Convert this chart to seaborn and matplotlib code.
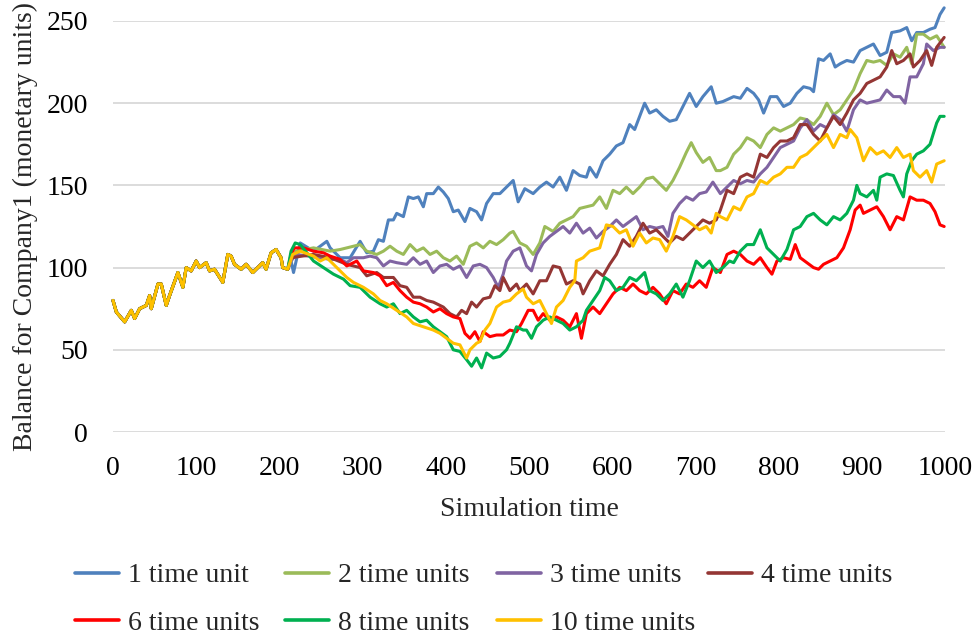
import numpy as np
import pandas as pd
import matplotlib
matplotlib.use("Agg")
import matplotlib.pyplot as plt
import seaborn as sns

# ---------------- data ----------------
series_names = ["1 time unit", "2 time units", "3 time units", "4 time units",
                "6 time units", "8 time units", "10 time units"]
series_colors = ["#4F81BD", "#9BBB59", "#8064A2", "#943634",
                 "#FF0000", "#00B050", "#FFC000"]

shared_t = [0, 4, 14, 22, 26, 32, 40, 44, 46, 54, 58, 64, 68, 78, 84, 88, 94, 100,
            104, 112, 116, 122, 132, 138, 142, 146, 154, 160, 168, 174, 180, 184,
            190, 196, 202, 204, 210]
shared_v = [80, 73, 67, 74, 69, 75, 77, 83, 75, 90, 90, 77, 83, 97, 88, 100, 98, 104,
            100, 103, 98, 99, 91, 108, 107, 102, 99, 102, 97, 100, 103, 99,
            109, 111, 106, 100, 99]

t1 = [214, 217, 225, 241, 257, 261, 273, 285, 297, 305, 313, 319, 325, 331, 337, 341,
      349, 355, 361, 367, 373, 377, 385, 391, 397, 403, 409, 415, 423, 429, 437, 443,
      449, 457, 465, 473, 481, 487, 495, 505, 513, 521, 529, 537, 545, 553, 561, 569,
      573, 581, 589, 597, 605, 613, 621, 627, 633, 639, 645, 653, 661, 669, 677, 685,
      693, 701, 709, 719, 725, 733, 746, 754, 762, 770, 776, 782, 790, 798, 806, 814,
      822, 830, 838, 842, 848, 854, 862, 868, 874, 882, 890, 898, 906, 914, 922, 930,
      936, 946, 954, 960, 966, 974, 982, 988, 994, 999]
v1 = [104, 97, 115, 110, 116, 112, 106, 106, 116, 109, 110, 117, 116, 129, 129, 133,
      131, 143, 142, 143, 137, 145, 145, 149, 146, 142, 134, 135, 128, 136, 134, 129,
      139, 145, 145, 149, 153, 140, 148, 145, 149, 152, 149, 155, 147, 159, 156, 155,
      161, 155, 165, 169, 174, 176, 187, 184, 192, 200, 194, 196, 192, 189, 190, 198,
      206, 198, 204, 210, 200, 201, 204, 203, 209, 206, 202, 194, 204, 204, 198, 200,
      206, 210, 209, 207, 227, 226, 230, 222, 224, 226, 225, 232, 234, 236, 229, 231,
      243, 244, 246, 238, 243, 243, 245, 246, 254, 258]

t2 = [214, 220, 241, 261, 273, 281, 289, 297, 305, 317, 325, 333, 341, 349, 357, 365,
      373, 381, 389, 397, 405, 413, 421, 429, 437, 445, 453, 461, 469, 477, 481, 489,
      497, 505, 513, 519, 529, 537, 545, 553, 561, 569, 577, 585, 593, 601, 609, 617,
      625, 633, 641, 649, 657, 665, 673, 681, 689, 695, 701, 709, 717, 725, 730, 738,
      746, 754, 762, 770, 778, 786, 794, 802, 810, 818, 826, 834, 842, 850, 858, 866,
      874, 882, 890, 898, 906, 914, 922, 930, 938, 946, 954, 960, 966, 974, 982, 990,
      999]
v2 = [104, 110, 112, 110, 111, 112, 113, 114, 110, 108, 110, 113, 110, 108, 114, 110,
      112, 108, 110, 106, 104, 107, 102, 113, 115, 112, 116, 114, 117, 121, 122, 115,
      113, 108, 115, 125, 122, 127, 129, 131, 136, 137, 138, 143, 136, 147, 145, 149,
      145, 149, 154, 155, 151, 147, 153, 161, 170, 176, 170, 164, 167, 159, 159, 161,
      169, 173, 179, 177, 173, 181, 185, 183, 185, 187, 191, 190, 187, 192, 200, 193,
      196, 202, 208, 218, 226, 225, 226, 223, 230, 228, 234, 224, 242, 242, 239, 241,
      234]

t3 = [214, 220, 249, 261, 273, 281, 289, 301, 309, 317, 325, 333, 341, 353, 361, 369,
      377, 385, 393, 401, 409, 417, 425, 433, 441, 449, 457, 463, 469, 473, 481, 489,
      497, 503, 509, 517, 525, 533, 541, 549, 557, 565, 573, 581, 589, 597, 605, 613,
      621, 629, 637, 645, 653, 661, 667, 673, 681, 689, 697, 705, 713, 721, 730, 738,
      746, 754, 762, 770, 778, 786, 794, 802, 810, 818, 826, 834, 842, 850, 858, 866,
      874, 882, 890, 898, 906, 914, 922, 930, 938, 946, 952, 958, 966, 974, 978, 986,
      994, 999]
v3 = [104, 108, 106, 105, 105, 103, 106, 106, 107, 106, 101, 104, 103, 102, 106, 102,
      104, 97, 101, 102, 99, 101, 94, 101, 102, 100, 94, 88, 96, 104, 110, 112,
      101, 98, 108, 115, 119, 122, 125, 121, 127, 121, 124, 118, 122, 125, 129, 125,
      128, 131, 123, 125, 124, 125, 119, 133, 139, 143, 141, 145, 146, 152, 145, 149,
      153, 151, 153, 152, 157, 161, 167, 173, 175, 177, 185, 190, 183, 187, 185, 193,
      190, 183, 196, 202, 200, 201, 202, 208, 204, 204, 200, 216, 216, 224, 236, 232,
      234, 234]

t4 = [214, 241, 261, 281, 297, 305, 317, 325, 337, 345, 353, 361, 369, 377, 385, 397,
      405, 413, 419, 425, 431, 437, 445, 453, 459, 465, 469, 477, 485, 489, 497, 505,
      513, 521, 529, 537, 545, 553, 561, 565, 573, 581, 589, 597, 605, 613, 621, 629,
      637, 645, 653, 661, 669, 677, 685, 693, 701, 709, 717, 725, 730, 738, 746, 754,
      762, 770, 778, 786, 794, 802, 810, 818, 826, 834, 842, 850, 858, 866, 874, 882,
      890, 898, 906, 914, 922, 930, 936, 942, 950, 958, 962, 970, 978, 984, 990, 999]
v4 = [106, 108, 106, 102, 100, 95, 97, 94, 94, 89, 88, 82, 82, 80, 79, 76,
      72, 70, 74, 72, 79, 76, 81, 82, 89, 86, 94, 86, 90, 86, 90, 84,
      92, 92, 101, 100, 90, 92, 90, 84, 92, 98, 95, 102, 108, 117, 113, 119,
      127, 121, 123, 119, 115, 119, 117, 121, 125, 129, 127, 129, 135, 147, 145, 155,
      157, 155, 169, 167, 173, 177, 177, 179, 187, 187, 181, 177, 185, 192, 187, 194,
      202, 206, 212, 214, 216, 222, 232, 224, 226, 230, 222, 226, 232, 223, 234, 240]

t6 = [214, 218, 229, 241, 253, 261, 273, 281, 293, 301, 313, 321, 329, 337, 345, 353,
      361, 369, 377, 385, 393, 401, 409, 417, 423, 429, 435, 441, 445, 453, 461, 469,
      477, 485, 491, 499, 505, 511, 517, 525, 533, 541, 549, 557, 563, 569, 577, 585,
      593, 601, 609, 617, 625, 633, 641, 649, 657, 665, 673, 681, 689, 697, 705, 713,
      721, 730, 738, 746, 754, 762, 770, 778, 786, 792, 798, 806, 814, 820, 826, 834,
      842, 848, 854, 862, 870, 878, 886, 892, 898, 902, 910, 918, 926, 934, 942, 950,
      958, 966, 974, 982, 988, 994, 999]
v6 = [108, 112, 112, 110, 109, 107, 105, 101, 104, 98, 97, 95, 89, 91, 86, 82,
      79, 78, 76, 73, 75, 72, 70, 69, 60, 57, 61, 55, 61, 58, 59, 59,
      62, 61, 66, 74, 74, 68, 72, 68, 70, 68, 64, 72, 57, 72, 76, 72,
      78, 84, 88, 86, 90, 86, 84, 88, 84, 78, 86, 84, 90, 88, 92, 88,
      100, 97, 108, 110, 108, 104, 102, 106, 100, 96, 104, 106, 105, 114, 106, 103,
      100, 99, 102, 104, 106, 112, 123, 135, 138, 133, 135, 137, 131, 123, 131, 129,
      143, 141, 141, 139, 134, 126, 125]

t8 = [214, 219, 225, 241, 253, 265, 277, 285, 297, 309, 321, 329, 337, 345, 353, 361,
      369, 377, 385, 393, 401, 409, 417, 425, 431, 437, 443, 449, 457, 465, 473, 477,
      485, 493, 497, 503, 509, 517, 525, 533, 541, 549, 557, 565, 569, 577, 585, 591,
      597, 605, 613, 621, 629, 639, 645, 653, 661, 669, 677, 685, 693, 701, 709, 717,
      725, 733, 741, 746, 754, 762, 770, 778, 786, 794, 802, 810, 818, 826, 834, 842,
      850, 858, 866, 874, 882, 890, 894, 898, 906, 914, 918, 922, 930, 938, 946, 950,
      954, 960, 966, 974, 982, 990, 994, 999]
v8 = [110, 115, 114, 104, 100, 96, 93, 89, 88, 82, 78, 76, 78, 72, 74, 70,
      67, 68, 64, 61, 58, 50, 49, 44, 40, 45, 39, 48, 45, 46, 50, 54,
      64, 62, 62, 57, 64, 68, 70, 68, 66, 62, 64, 68, 74, 80, 86, 94,
      92, 86, 88, 94, 92, 97, 86, 84, 80, 84, 90, 82, 92, 104, 100, 104,
      97, 100, 104, 103, 110, 114, 114, 123, 112, 108, 104, 111, 123, 125, 131, 133,
      129, 126, 131, 129, 133, 141, 150, 145, 143, 147, 141, 155, 157, 156, 147, 143,
      157, 165, 169, 171, 175, 188, 192, 192]

t10 = [216, 225, 241, 249, 257, 269, 281, 289, 301, 313, 321, 329, 341, 353, 361, 373,
       385, 393, 401, 409, 417, 425, 429, 437, 441, 447, 453, 461, 469, 477, 485, 493,
       497, 505, 513, 521, 527, 533, 541, 549, 555, 557, 565, 573, 585, 593, 601, 609,
       617, 625, 633, 641, 649, 657, 665, 673, 681, 689, 697, 705, 713, 719, 725, 730,
       738, 746, 754, 762, 770, 778, 786, 794, 802, 810, 818, 826, 834, 842, 850, 858,
       866, 874, 882, 886, 894, 902, 910, 918, 926, 934, 942, 950, 958, 962, 970, 978,
       984, 990, 999]
v10 = [108, 110, 107, 104, 106, 100, 94, 91, 88, 84, 80, 78, 74, 70, 66, 64,
       62, 60, 57, 54, 53, 45, 50, 54, 55, 62, 66, 76, 79, 80, 84, 87,
       82, 78, 80, 72, 66, 76, 80, 88, 92, 104, 106, 110, 112, 126, 125, 121,
       123, 113, 121, 115, 118, 117, 110, 119, 131, 129, 126, 123, 125, 121, 133, 131,
       129, 137, 135, 143, 145, 153, 151, 155, 157, 161, 161, 167, 169, 173, 177, 181,
       173, 181, 179, 184, 179, 165, 173, 169, 171, 167, 173, 167, 169, 159, 155, 159,
       152, 163, 165]

series_t = [t1, t2, t3, t4, t6, t8, t10]
series_v = [v1, v2, v3, v4, v6, v8, v10]

frames = []
for name, t, v in zip(series_names, series_t, series_v):
    frames.append(pd.DataFrame({"time": shared_t + t, "balance": shared_v + v,
                                "series": name}))
df = pd.concat(frames, ignore_index=True)

# ---------------- plot ----------------
sns.set_theme(style="white")
plt.rcParams["font.family"] = ["Liberation Serif", "DejaVu Serif"]

FS = 20
fig = plt.figure(figsize=(9.75, 6.35), dpi=100)
ax = fig.add_axes([113 / 975, 1 - 432 / 635, 832 / 975, 411 / 635])

sns.lineplot(data=df, x="time", y="balance", hue="series", hue_order=series_names,
             palette=dict(zip(series_names, series_colors)), estimator=None,
             sort=False, linewidth=2.2, ax=ax, legend=False)
for ln in ax.lines:
    ln.set_clip_on(False)
    ln.set_solid_joinstyle("round")

ax.set_xlim(0, 1000)
ax.set_ylim(0, 250)
ax.set_xticks(range(0, 1001, 100))
ax.set_yticks(range(0, 251, 50))
ax.yaxis.grid(True, color="#D9D9D9", linewidth=1.3)
ax.xaxis.grid(False)
ax.set_axisbelow(True)
for s in ax.spines.values():
    s.set_visible(False)
ax.tick_params(axis="both", length=0, labelsize=FS, colors="black")
ax.tick_params(axis="y", pad=18)
ax.tick_params(axis="x", pad=17)
ax.set_xlabel("Simulation time", fontsize=FS, labelpad=12)
ax.set_ylabel("Balance for Company1 (monetary units)", fontsize=FS, labelpad=6)

# legend: equal-width columns (like the original), rows filled left to right
handles = [plt.Line2D([], [], color=c, linewidth=2.6) for c in series_colors]
col_x = [75, 285, 497, 708]
rows = [[0, 1, 2, 3], [4, 5, 6]]
for ci, x0 in enumerate(col_x):
    idx = [r[ci] for r in rows if ci < len(r)]
    fig.legend([handles[i] for i in idx], [series_names[i] for i in idx],
               ncol=1, loc="upper left", bbox_to_anchor=(x0 / 975, 1 - 563 / 635),
               frameon=False, fontsize=FS, handlelength=1.6, handletextpad=0.3,
               labelspacing=0.8, borderaxespad=0, borderpad=0)

fig.savefig("out.png", dpi=100)
